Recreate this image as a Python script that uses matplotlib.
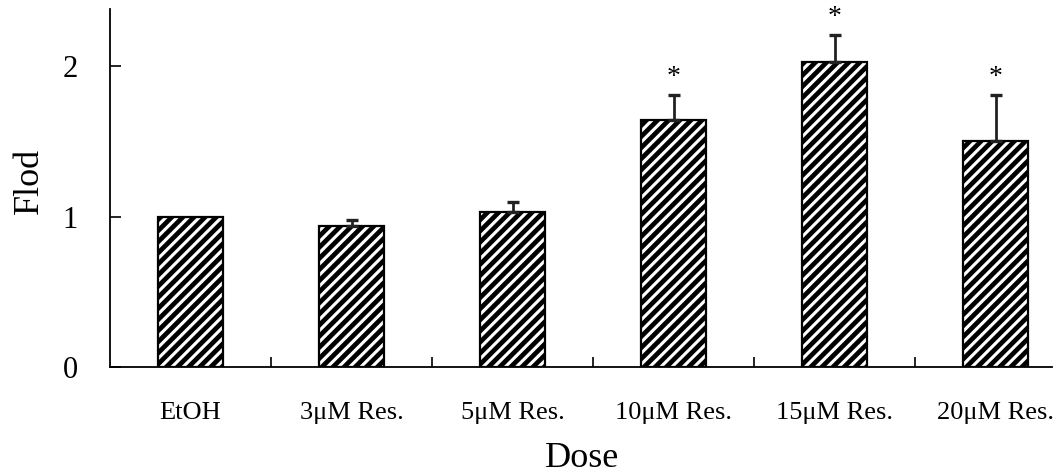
import numpy as np
import matplotlib.pyplot as plt

plt.rcParams['font.family'] = ['Liberation Serif', 'DejaVu Serif']
plt.rcParams['hatch.linewidth'] = 3.4

doses = ['EtOH', '3μM Res.', '5μM Res.', '10μM Res.', '15μM Res.', '20μM Res.']
fold = [1.00, 0.94, 1.03, 1.64, 2.03, 1.50]
err = [0.0, 0.04, 0.07, 0.17, 0.18, 0.31]
signif = [False, False, False, True, True, True]

fig = plt.figure(figsize=(10.58, 4.74), dpi=100)
ax = fig.add_axes([110 / 1058, 1 - 367 / 474, 942 / 1058, 358 / 474])

x = np.arange(len(doses))
fold_a = np.array(fold)
err_a = np.array(err)
ax.bar(x, fold, width=0.4, color='white', edgecolor='black', hatch='///', linewidth=1.6)

has_err = err_a > 0
ax.errorbar(x[has_err], fold_a[has_err], yerr=[np.zeros(has_err.sum()), err_a[has_err]],
            fmt='none', ecolor='#222222', elinewidth=2, capsize=4.5, capthick=2.4)

for xi, v, e, s in zip(x, fold, err, signif):
    if s:
        ax.text(xi, v + e + 0.03, '*', ha='center', va='bottom', fontsize=20)

ax.set_xlim(-0.5, 5.35)
ax.set_ylim(0, 2.38)
ax.set_yticks([0, 1, 2])
ax.set_yticklabels(['0', '1', '2'], fontsize=22)
ax.tick_params(axis='y', direction='in', length=8, width=1.2, pad=23)

ax.set_xticks(x)
ax.set_xticklabels(doses, fontsize=19)
ax.tick_params(axis='x', which='major', length=0, pad=25)
ax.set_xticks(x[:-1] + 0.5, minor=True)
ax.tick_params(axis='x', which='minor', direction='in', length=7, width=1.2)

for side in ['top', 'right']:
    ax.spines[side].set_visible(False)
ax.spines['left'].set_linewidth(1.3)
ax.spines['bottom'].set_linewidth(1.3)

ax.set_ylabel('Flod', fontsize=26)
ax.yaxis.set_label_coords(-0.068, 0.52)
ax.set_xlabel('Dose', fontsize=26)
ax.xaxis.set_label_coords(0.501, -0.21)

fig.savefig('out.png', dpi=100)
